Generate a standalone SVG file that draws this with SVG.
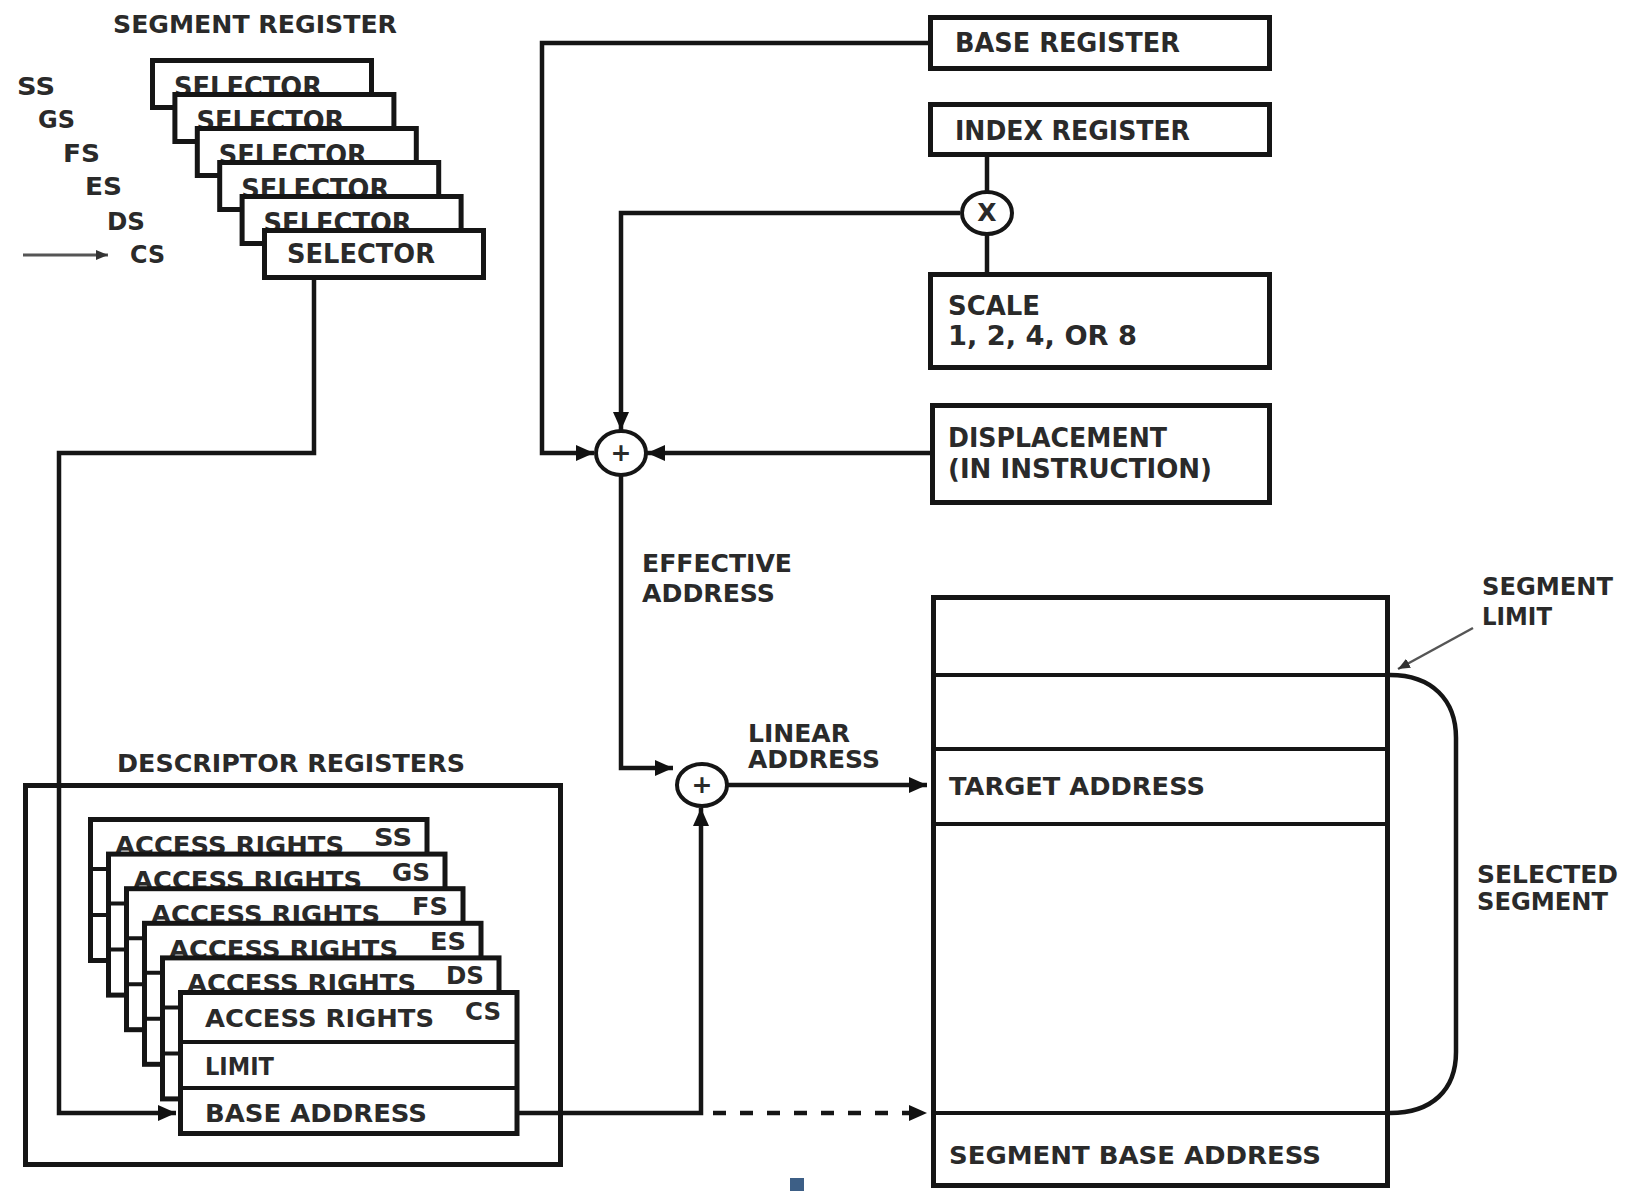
<svg xmlns="http://www.w3.org/2000/svg" width="1629" height="1191" viewBox="0 0 1629 1191">
<defs>
<style>
.t{font-family:"DejaVu Sans","Liberation Sans",sans-serif;font-weight:bold;fill:#2a2a2a;font-size:25px}
.s{font-size:26px}
.box{fill:#fff;stroke:#151515;stroke-width:5}
.ln{fill:none;stroke:#151515;stroke-width:4.5}
.thin{fill:none;stroke:#151515;stroke-width:4}
.c{fill:#fff;stroke:#151515;stroke-width:4}
</style>
<marker id="ah" markerUnits="userSpaceOnUse" markerWidth="20" markerHeight="18" refX="18" refY="8" orient="auto">
<path d="M0,0 L18,8 L0,16 z" fill="#111"/>
</marker>
<marker id="sa" markerUnits="userSpaceOnUse" markerWidth="14" markerHeight="12" refX="12" refY="5" orient="auto">
<path d="M0,0 L12,5 L0,10 z" fill="#333"/>
</marker>
</defs>
<rect width="1629" height="1191" fill="#fff"/>

<g id="segment-register">
<text class="t" x="113" y="33" textLength="284" lengthAdjust="spacingAndGlyphs" font-size="24">SEGMENT REGISTER</text>
<text class="t" x="17" y="95" textLength="38" lengthAdjust="spacingAndGlyphs">SS</text>
<text class="t" x="38" y="128" textLength="37" lengthAdjust="spacingAndGlyphs">GS</text>
<text class="t" x="63" y="162" textLength="37" lengthAdjust="spacingAndGlyphs">FS</text>
<text class="t" x="85" y="195" textLength="37" lengthAdjust="spacingAndGlyphs">ES</text>
<text class="t" x="107" y="230" textLength="38" lengthAdjust="spacingAndGlyphs">DS</text>
<text class="t" x="130" y="263" textLength="35" lengthAdjust="spacingAndGlyphs">CS</text>
<line x1="23" y1="255" x2="108" y2="255" stroke="#555" stroke-width="3" marker-end="url(#sa)"/>
<g id="sel-ss"><rect class="box" x="152.5" y="60.5" width="219" height="47"/><text class="t s" x="174" y="96" textLength="148" lengthAdjust="spacingAndGlyphs">SELECTOR</text></g>
<g id="sel-gs"><rect class="box" x="174.9" y="94.5" width="219" height="47"/><text class="t s" x="196.4" y="130" textLength="148" lengthAdjust="spacingAndGlyphs">SELECTOR</text></g>
<g id="sel-fs"><rect class="box" x="197.3" y="128.5" width="219" height="47"/><text class="t s" x="218.8" y="164" textLength="148" lengthAdjust="spacingAndGlyphs">SELECTOR</text></g>
<g id="sel-es"><rect class="box" x="219.7" y="162.5" width="219" height="47"/><text class="t s" x="241.2" y="198" textLength="148" lengthAdjust="spacingAndGlyphs">SELECTOR</text></g>
<g id="sel-ds"><rect class="box" x="242.1" y="196.5" width="219" height="47"/><text class="t s" x="263.6" y="232" textLength="148" lengthAdjust="spacingAndGlyphs">SELECTOR</text></g>
<g id="sel-cs"><rect class="box" x="264.5" y="230.5" width="219" height="47"/><text class="t s" x="287" y="263" textLength="148" lengthAdjust="spacingAndGlyphs">SELECTOR</text></g>
</g>

<g id="base-register"><rect class="box" x="930.5" y="17.5" width="339" height="51"/><text class="t s" x="955" y="52" textLength="225" lengthAdjust="spacingAndGlyphs">BASE REGISTER</text></g>
<g id="index-register"><rect class="box" x="930.5" y="104.5" width="339" height="50"/><text class="t s" x="955" y="140" textLength="235" lengthAdjust="spacingAndGlyphs">INDEX REGISTER</text></g>
<g id="scale"><rect class="box" x="930.5" y="274.5" width="339" height="93"/><text class="t s" x="948" y="315" textLength="92" lengthAdjust="spacingAndGlyphs">SCALE</text><text class="t s" x="948" y="345" textLength="189" lengthAdjust="spacingAndGlyphs">1, 2, 4, OR 8</text></g>
<g id="displacement"><rect class="box" x="932.5" y="405.5" width="337" height="97"/><text class="t s" x="948" y="447" textLength="219" lengthAdjust="spacingAndGlyphs">DISPLACEMENT</text><text class="t s" x="948" y="478" textLength="264" lengthAdjust="spacingAndGlyphs">(IN INSTRUCTION)</text></g>

<g id="multiply"><ellipse class="c" cx="987" cy="213" rx="25" ry="21"/><text class="t" x="987" y="221" font-size="21" text-anchor="middle">X</text></g>
<g id="add-effective"><ellipse class="c" cx="621" cy="453" rx="25" ry="22"/><text class="t" x="621" y="461" font-size="22" text-anchor="middle">+</text></g>
<g id="add-linear"><ellipse class="c" cx="702" cy="785" rx="25" ry="21"/><text class="t" x="702" y="793" font-size="22" text-anchor="middle">+</text></g>

<g id="label-effective"><text class="t" x="642" y="572" textLength="150" lengthAdjust="spacingAndGlyphs">EFFECTIVE</text><text class="t" x="642" y="602" textLength="133" lengthAdjust="spacingAndGlyphs">ADDRESS</text></g>
<g id="label-linear"><text class="t" x="748" y="742" textLength="102" lengthAdjust="spacingAndGlyphs">LINEAR</text><text class="t" x="748" y="768" textLength="132" lengthAdjust="spacingAndGlyphs">ADDRESS</text></g>

<g id="descriptor-registers">
<text class="t" x="117" y="772" textLength="348" lengthAdjust="spacingAndGlyphs" font-size="24">DESCRIPTOR REGISTERS</text>
<rect class="box" x="25.5" y="785.5" width="535" height="379" fill="none"/>
</g>

<g id="connectors">
<polyline class="ln" points="928,43 542,43 542,453 594,453" marker-end="url(#ah)"/>
<polyline class="ln" points="960,213 621,213 621,430" marker-end="url(#ah)"/>
<line class="ln" x1="987" y1="157" x2="987" y2="192"/>
<line class="ln" x1="987" y1="234" x2="987" y2="272"/>
<line class="ln" x1="930" y1="453" x2="647" y2="453" marker-end="url(#ah)"/>
<polyline class="ln" points="621,475 621,768 673,768" marker-end="url(#ah)"/>
<line class="ln" x1="727" y1="785" x2="927" y2="785" marker-end="url(#ah)"/>
<polyline class="ln" points="314,280 314,453 59,453 59,1113 176,1113" marker-end="url(#ah)"/>
<polyline class="ln" points="518,1113 701,1113 701,808" marker-end="url(#ah)"/>
<line class="ln" x1="713" y1="1113" x2="927" y2="1113" stroke-dasharray="13 14" marker-end="url(#ah)"/>
<line x1="1473" y1="628" x2="1398" y2="669" stroke="#555" stroke-width="2.5" marker-end="url(#sa)"/>
<path class="ln" stroke-width="3.5" d="M1390,675 C1432,675 1456,700 1456,738 L1456,1052 C1456,1090 1432,1113 1390,1113"/>
</g>

<g id="desc-ss"><rect class="box" x="90.5" y="819.5" width="336.5" height="141"/><line class="thin" x1="90" y1="869" x2="427" y2="869"/><line class="thin" x1="90" y1="915" x2="427" y2="915"/><text class="t" x="115" y="854" textLength="229" lengthAdjust="spacingAndGlyphs">ACCESS RIGHTS</text><text class="t" x="412" y="846" text-anchor="end" textLength="38" lengthAdjust="spacingAndGlyphs">SS</text></g>
<g id="desc-gs"><rect class="box" x="108.5" y="854.1" width="336.5" height="141"/><line class="thin" x1="108" y1="903.6" x2="445" y2="903.6"/><line class="thin" x1="108" y1="949.6" x2="445" y2="949.6"/><text class="t" x="133" y="888.6" textLength="229" lengthAdjust="spacingAndGlyphs">ACCESS RIGHTS</text><text class="t" x="430" y="880.6" text-anchor="end" textLength="38" lengthAdjust="spacingAndGlyphs">GS</text></g>
<g id="desc-fs"><rect class="box" x="126.5" y="888.7" width="336.5" height="141"/><line class="thin" x1="126" y1="938.2" x2="463" y2="938.2"/><line class="thin" x1="126" y1="984.2" x2="463" y2="984.2"/><text class="t" x="151" y="923.2" textLength="229" lengthAdjust="spacingAndGlyphs">ACCESS RIGHTS</text><text class="t" x="448" y="915.2" text-anchor="end" textLength="36" lengthAdjust="spacingAndGlyphs">FS</text></g>
<g id="desc-es"><rect class="box" x="144.5" y="923.3" width="336.5" height="141"/><line class="thin" x1="144" y1="972.8" x2="481" y2="972.8"/><line class="thin" x1="144" y1="1018.8" x2="481" y2="1018.8"/><text class="t" x="169" y="957.8" textLength="229" lengthAdjust="spacingAndGlyphs">ACCESS RIGHTS</text><text class="t" x="466" y="949.8" text-anchor="end" textLength="36" lengthAdjust="spacingAndGlyphs">ES</text></g>
<g id="desc-ds"><rect class="box" x="162.5" y="957.9" width="336.5" height="141"/><line class="thin" x1="162" y1="1007.4" x2="499" y2="1007.4"/><line class="thin" x1="162" y1="1053.4" x2="499" y2="1053.4"/><text class="t" x="187" y="992.4" textLength="229" lengthAdjust="spacingAndGlyphs">ACCESS RIGHTS</text><text class="t" x="484" y="984.4" text-anchor="end" textLength="38" lengthAdjust="spacingAndGlyphs">DS</text></g>
<g id="desc-cs"><rect class="box" x="180.5" y="992.5" width="336.5" height="141"/><line class="thin" x1="180" y1="1042" x2="517" y2="1042"/><line class="thin" x1="180" y1="1088" x2="517" y2="1088"/><text class="t" x="205" y="1027" textLength="229" lengthAdjust="spacingAndGlyphs">ACCESS RIGHTS</text><text class="t" x="501" y="1020" text-anchor="end" textLength="36" lengthAdjust="spacingAndGlyphs">CS</text><text class="t" x="205" y="1075" textLength="69" lengthAdjust="spacingAndGlyphs">LIMIT</text><text class="t" x="205" y="1122" textLength="222" lengthAdjust="spacingAndGlyphs">BASE ADDRESS</text></g>

<g id="memory-segment">
<rect class="box" x="933.5" y="597.5" width="454" height="588"/>
<line class="thin" x1="933" y1="675" x2="1388" y2="675"/>
<line class="thin" x1="933" y1="749" x2="1388" y2="749"/>
<line class="thin" x1="933" y1="824" x2="1388" y2="824"/>
<line class="thin" x1="933" y1="1113" x2="1388" y2="1113"/>
<text class="t" x="949" y="795" textLength="256" lengthAdjust="spacingAndGlyphs">TARGET ADDRESS</text>
<text class="t" x="949" y="1164" textLength="372" lengthAdjust="spacingAndGlyphs">SEGMENT BASE ADDRESS</text>
</g>
<g id="label-segment-limit"><text class="t" x="1482" y="595" textLength="131" lengthAdjust="spacingAndGlyphs">SEGMENT</text><text class="t" x="1482" y="625" textLength="70" lengthAdjust="spacingAndGlyphs">LIMIT</text></g>
<g id="label-selected-segment"><text class="t" x="1477" y="883" textLength="141" lengthAdjust="spacingAndGlyphs">SELECTED</text><text class="t" x="1477" y="910" textLength="131" lengthAdjust="spacingAndGlyphs">SEGMENT</text></g>
<rect x="790" y="1178" width="14" height="13" fill="#3d5f86"/>
</svg>
